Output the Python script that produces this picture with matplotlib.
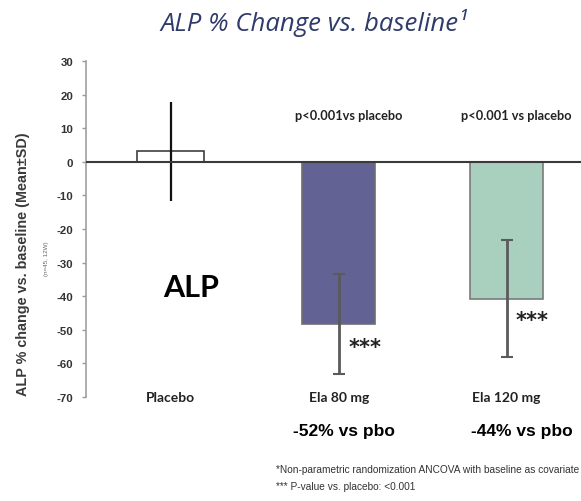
import matplotlib
matplotlib.use("Agg")
import matplotlib.pyplot as plt

# values
groups = ["Placebo", "Ela 80 mg", "Ela 120 mg"]
means = [3.1, -48.3, -40.7]
sds = [14.8, 14.8, 17.4]
vs_pbo = ["", "-52% vs pbo", "-44% vs pbo"]
p_labels = ["", "p<0.001vs placebo", "p<0.001 vs placebo"]
yticks = [30, 20, 10, 0, -10, -20, -30, -40, -50, -60, -70]

bar_colors = ["white", "#626394", "#a9cfbf"]
edge_colors = ["#404040", "#6e6e6e", "#7a7a7a"]
err_colors = ["#111111", "#5a5a5a", "#5a5a5a"]
widths = [0.40, 0.435, 0.435]

fig = plt.figure(figsize=(5.81, 5.02), dpi=100)
ax = fig.add_axes([0.148, 0.207, 0.852, 0.6695])

x = list(range(len(groups)))
for i in x:
    ax.bar(i, means[i], width=widths[i], color=bar_colors[i],
           edgecolor=edge_colors[i], linewidth=1.2, zorder=2)
    ax.errorbar(i, means[i], yerr=sds[i], fmt="none", ecolor=err_colors[i],
                elinewidth=1.6 if i == 0 else 2.0,
                capsize=0 if i == 0 else 4, capthick=1.5, zorder=3)

ax.axhline(0, color="#3a3a3a", linewidth=1.5, zorder=4)
ax.set_xlim(-0.506, 2.443)
ax.set_ylim(-70, 30)
ax.set_yticks(yticks)
ax.set_yticklabels([str(t) for t in yticks], fontsize=8.2, fontweight="bold",
                   color="#333333", fontfamily="Liberation Sans")
ax.tick_params(axis="y", direction="out", length=3, color="#999999", width=1, pad=6)
ax.set_xticks([])
for s in ["top", "right", "bottom"]:
    ax.spines[s].set_visible(False)
ax.spines["left"].set_color("#a0a0a0")
ax.spines["left"].set_linewidth(1.2)

# category labels and effect vs placebo
for i in x:
    ax.text(i, -70, groups[i], ha="center", va="center", fontsize=10,
            fontweight="bold", fontfamily="Lato", color="#222222", clip_on=False)
    if vs_pbo[i]:
        ax.text(i + (0.03 if i == 1 else 0.09), -80, vs_pbo[i], ha="center", va="center",
                fontsize=12.5, fontweight="bold", fontfamily="Liberation Sans",
                color="black", clip_on=False)
    if p_labels[i]:
        ax.text(i + 0.06, 14, p_labels[i], ha="center", va="center", fontsize=9.2,
                fontweight="bold", fontfamily="Lato", color="#222222")

ax.text(1.155, -55.0, "***", ha="center", va="center", fontsize=15,
        fontweight="bold", color="#222222")
ax.text(2.149, -47.2, "***", ha="center", va="center", fontsize=15,
        fontweight="bold", color="#222222")
ax.text(0.12, -37.1, "ALP", ha="center", va="center", fontsize=22,
        fontweight="bold", fontfamily="Lato", color="black")

fig.text(0.54, 0.954, "ALP % Change vs. baseline\u00b9", ha="center", va="center",
         fontsize=18.5, style="italic", fontfamily="Open Sans", color="#2f3b6a")

fig.text(0.040, 0.473, "ALP % change vs. baseline (Mean\u00b1SD)", rotation=90,
         ha="center", va="center", fontsize=10.4, fontweight="bold",
         fontfamily="Liberation Sans", color="#3a3a3a")
fig.text(0.080, 0.484, "(n=45, 12W)", rotation=90, ha="center", va="center",
         fontsize=4.5, fontfamily="Liberation Sans", color="#666666")

fig.text(0.475, 0.063, "*Non-parametric randomization ANCOVA with baseline as covariate",
         ha="left", va="center", fontsize=7.3, fontfamily="Liberation Sans", color="#333333")
fig.text(0.475, 0.030, "*** P-value vs. placebo: <0.001",
         ha="left", va="center", fontsize=7.3, fontfamily="Liberation Sans", color="#333333")

fig.savefig("out.png", dpi=100)
